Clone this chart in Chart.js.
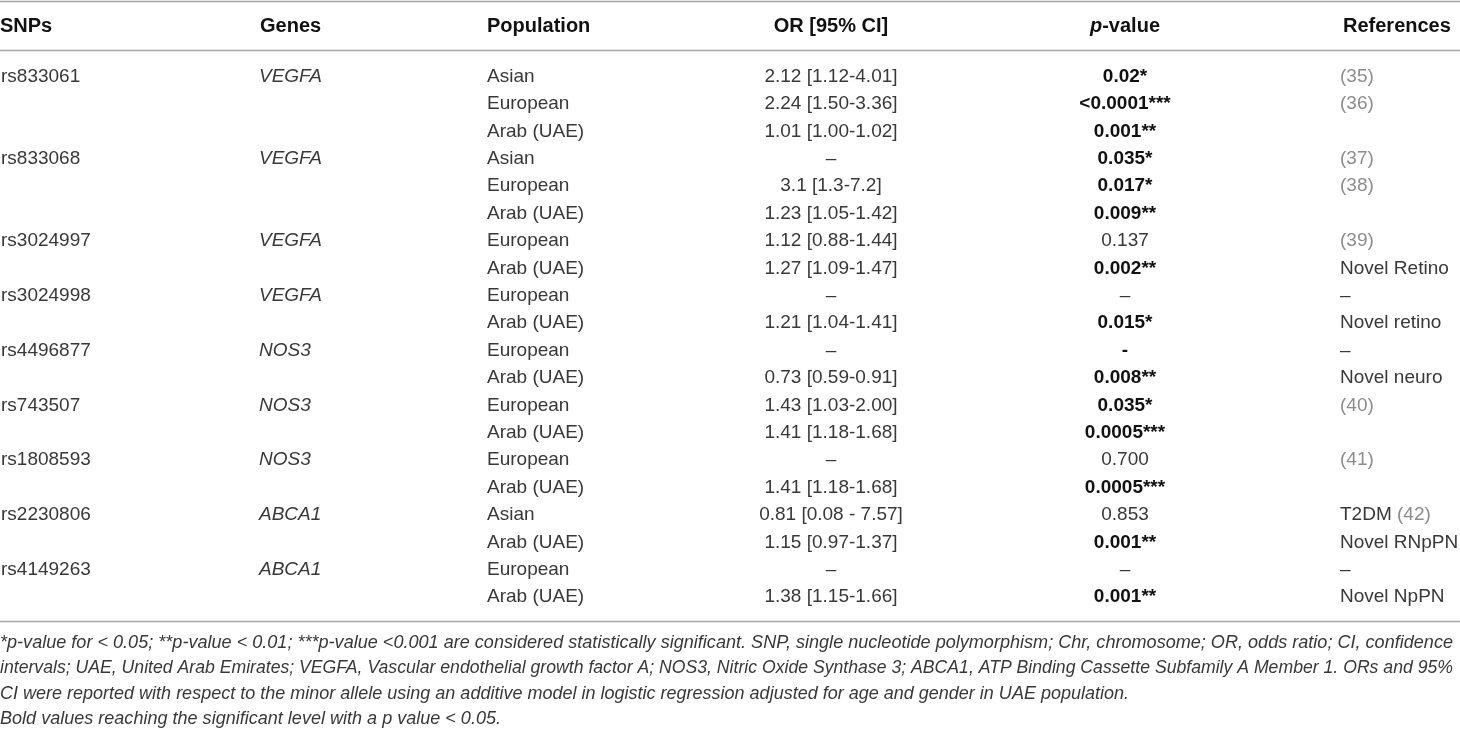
<!DOCTYPE html>
<html>
<head>
<meta charset="utf-8">
<script src="https://cdn.jsdelivr.net/npm/chart.js@4.4.1/dist/chart.umd.min.js"></script>
<style>
html,body{margin:0;padding:0;background:#ffffff;}
#wrap{width:1460px;height:730px;position:relative;}
</style>
</head>
<body>
<div id="wrap"><canvas id="c"></canvas></div>
<script>
// ---------- DATA ----------
const columns = ["SNPs", "Genes", "Population", "OR [95% CI]", "p-value", "References"];
const snps = ["rs833061", "rs833068", "rs3024997", "rs3024998", "rs4496877", "rs743507", "rs1808593", "rs2230806", "rs4149263"];
const genes = ["VEGFA", "VEGFA", "VEGFA", "VEGFA", "NOS3", "NOS3", "NOS3", "ABCA1", "ABCA1"];
const groupSizes = [3, 3, 2, 2, 2, 2, 2, 2, 2];
const populations = ["Asian", "European", "Arab (UAE)", "Asian", "European", "Arab (UAE)", "European", "Arab (UAE)",
  "European", "Arab (UAE)", "European", "Arab (UAE)", "European", "Arab (UAE)", "European", "Arab (UAE)",
  "Asian", "Arab (UAE)", "European", "Arab (UAE)"];
const orValues = ["2.12 [1.12-4.01]", "2.24 [1.50-3.36]", "1.01 [1.00-1.02]", "–", "3.1 [1.3-7.2]", "1.23 [1.05-1.42]",
  "1.12 [0.88-1.44]", "1.27 [1.09-1.47]", "–", "1.21 [1.04-1.41]", "–", "0.73 [0.59-0.91]",
  "1.43 [1.03-2.00]", "1.41 [1.18-1.68]", "–", "1.41 [1.18-1.68]", "0.81 [0.08 - 7.57]", "1.15 [0.97-1.37]",
  "–", "1.38 [1.15-1.66]"];
const pValues = ["0.02*", "<0.0001***", "0.001**", "0.035*", "0.017*", "0.009**", "0.137", "0.002**", "–", "0.015*",
  "-", "0.008**", "0.035*", "0.0005***", "0.700", "0.0005***", "0.853", "0.001**", "–", "0.001**"];
const pBold = [1, 1, 1, 1, 1, 1, 0, 1, 0, 1, 1, 1, 1, 1, 0, 1, 0, 1, 0, 1];
const references = ["(35)", "(36)", "", "(37)", "(38)", "", "(39)", "Novel Retino", "–", "Novel retino", "–", "Novel neuro",
  "(40)", "", "(41)", "", "T2DM (42)", "Novel RNpPN", "–", "Novel NpPN"];
const footnotes = [
  "*p-value for < 0.05; **p-value < 0.01; ***p-value <0.001 are considered statistically significant. SNP, single nucleotide polymorphism; Chr, chromosome; OR, odds ratio; CI, confidence",
  "intervals; UAE, United Arab Emirates; VEGFA, Vascular endothelial growth factor A; NOS3, Nitric Oxide Synthase 3; ABCA1, ATP Binding Cassette Subfamily A Member 1. ORs and 95%",
  "CI were reported with respect to the minor allele using an additive model in logistic regression adjusted for age and gender in UAE population.",
  "Bold values reaching the significant level with a p value < 0.05."
];

// ---------- LAYOUT (styles / positions) ----------
const FONT = '"Liberation Sans", Arial, Helvetica, sans-serif';
const colX = [1, 259, 487, 831, 1125, 1340];          // x-scale anchors of body columns
const colAlign = ["left", "left", "left", "center", "center", "left"];
const headX = [0, 260, 487, 831, 1125, 1343];
const headAlign = ["left", "left", "left", "center", "center", "left"];
const rowPitchPx = 27.4, row0Px = 76.5;
const yMin = -row0Px / rowPitchPx, yMax = yMin + 730 / rowPitchPx;
const headerRow = -1.843, topRule = -2.745, headRule = -0.95, bottomRule = 19.855;
const footRow0 = 20.68, footPitch = 0.924;
const footEnds = [1453, 1453, 1129, 501];
const textColor = "#383838", boldColor = "#111111", citeColor = "#8c8c8c", ruleColor = "#a3a3a3";

// ---------- build row/col cells ----------
const snpRows = [];
let acc = 0;
groupSizes.forEach(g => { snpRows.push(acc); acc += g; });
const rowIdx = populations.map((_, i) => i);

const cellData = [
  snpRows.map(r => ({x: colX[0], y: r})),
  snpRows.map(r => ({x: colX[1], y: r})),
  rowIdx.map(r => ({x: colX[2], y: r})),
  rowIdx.map(r => ({x: colX[3], y: r})),
  rowIdx.map(r => ({x: colX[4], y: r})),
  rowIdx.map(r => ({x: colX[5], y: r}))
];

function drawRef(ctx, str, px, py) {
  const m = str.match(/^(.*?)(\(\d+\))?$/);
  const main = m[1] || "", cite = m[2] || "";
  ctx.font = "19px " + FONT;
  ctx.textAlign = "left";
  ctx.fillStyle = textColor;
  ctx.fillText(main, px, py);
  const w = ctx.measureText(main).width;
  if (cite) { ctx.fillStyle = citeColor; ctx.fillText(cite, px + w, py); }
}

const tablePlugin = {
  id: "tableText",
  afterDatasetsDraw(chart) {
    const ctx = chart.ctx;
    const xs = chart.scales.x, ys = chart.scales.y;
    ctx.save();
    ctx.textBaseline = "middle";

    // rules
    ctx.strokeStyle = ruleColor;
    ctx.lineWidth = 1.6;
    [topRule, headRule, bottomRule].forEach(v => {
      const py = Math.round(ys.getPixelForValue(v)) + 0.5;
      ctx.beginPath();
      ctx.moveTo(xs.getPixelForValue(0), py);
      ctx.lineTo(xs.getPixelForValue(1460), py);
      ctx.stroke();
    });

    // header
    const hy = ys.getPixelForValue(headerRow);
    ctx.fillStyle = boldColor;
    columns.forEach((c, i) => {
      const hx = xs.getPixelForValue(headX[i]);
      if (c === "p-value") {
        ctx.font = "italic bold 20px " + FONT;
        const w1 = ctx.measureText("p").width;
        ctx.font = "bold 20px " + FONT;
        const w2 = ctx.measureText("-value").width;
        const sx = hx - (w1 + w2) / 2;
        ctx.textAlign = "left";
        ctx.font = "italic bold 20px " + FONT;
        ctx.fillText("p", sx, hy);
        ctx.font = "bold 20px " + FONT;
        ctx.fillText("-value", sx + w1, hy);
      } else {
        ctx.font = "bold 20px " + FONT;
        ctx.textAlign = headAlign[i];
        ctx.fillText(c, hx, hy);
      }
    });

    // body cells, positioned at the dataset elements
    for (let d = 0; d < 6; d++) {
      const meta = chart.getDatasetMeta(d);
      meta.data.forEach((el, k) => {
        const px = el.x, py = el.y;
        const row = cellData[d][k].y;
        ctx.textAlign = colAlign[d];
        if (d === 0) {
          ctx.font = "19px " + FONT; ctx.fillStyle = textColor; ctx.fillText(snps[k], px, py);
        } else if (d === 1) {
          ctx.font = "italic 19px " + FONT; ctx.fillStyle = textColor; ctx.fillText(genes[k], px, py);
        } else if (d === 2) {
          ctx.font = "19px " + FONT; ctx.fillStyle = textColor; ctx.fillText(populations[row], px, py);
        } else if (d === 3) {
          ctx.font = "19px " + FONT; ctx.fillStyle = textColor; ctx.fillText(orValues[row], px, py);
        } else if (d === 4) {
          ctx.font = (pBold[row] ? "bold " : "") + "19px " + FONT;
          ctx.fillStyle = pBold[row] ? boldColor : textColor;
          ctx.fillText(pValues[row], px, py);
        } else {
          if (references[row]) drawRef(ctx, references[row], px, py);
        }
      });
    }

    // footnotes
    ctx.fillStyle = textColor;
    ctx.textAlign = "left";
    ctx.font = "italic 18px " + FONT;
    footnotes.forEach((t, i) => {
      const py = ys.getPixelForValue(footRow0 + i * footPitch);
      const x0 = xs.getPixelForValue(0);
      const x1 = xs.getPixelForValue(footEnds[i]);
      const w = ctx.measureText(t).width;
      const s = (x1 - x0) / w;
      ctx.save();
      ctx.translate(x0, py);
      ctx.scale(s, 1);
      ctx.fillText(t, 0, 0);
      ctx.restore();
    });
    ctx.restore();
  }
};

new Chart(document.getElementById("c"), {
  type: "scatter",
  data: {
    datasets: cellData.map((d, i) => ({
      label: columns[i],
      data: d,
      pointRadius: 0,
      pointHoverRadius: 0,
      showLine: false
    }))
  },
  options: {
    responsive: true,
    maintainAspectRatio: false,
    animation: false,
    events: [],
    layout: {padding: 0},
    plugins: {legend: {display: false}, tooltip: {enabled: false}},
    scales: {
      x: {type: "linear", min: 0, max: 1460, display: false},
      y: {type: "linear", min: yMin, max: yMax, reverse: true, display: false}
    }
  },
  plugins: [tablePlugin]
});
</script>
</body>
</html>
